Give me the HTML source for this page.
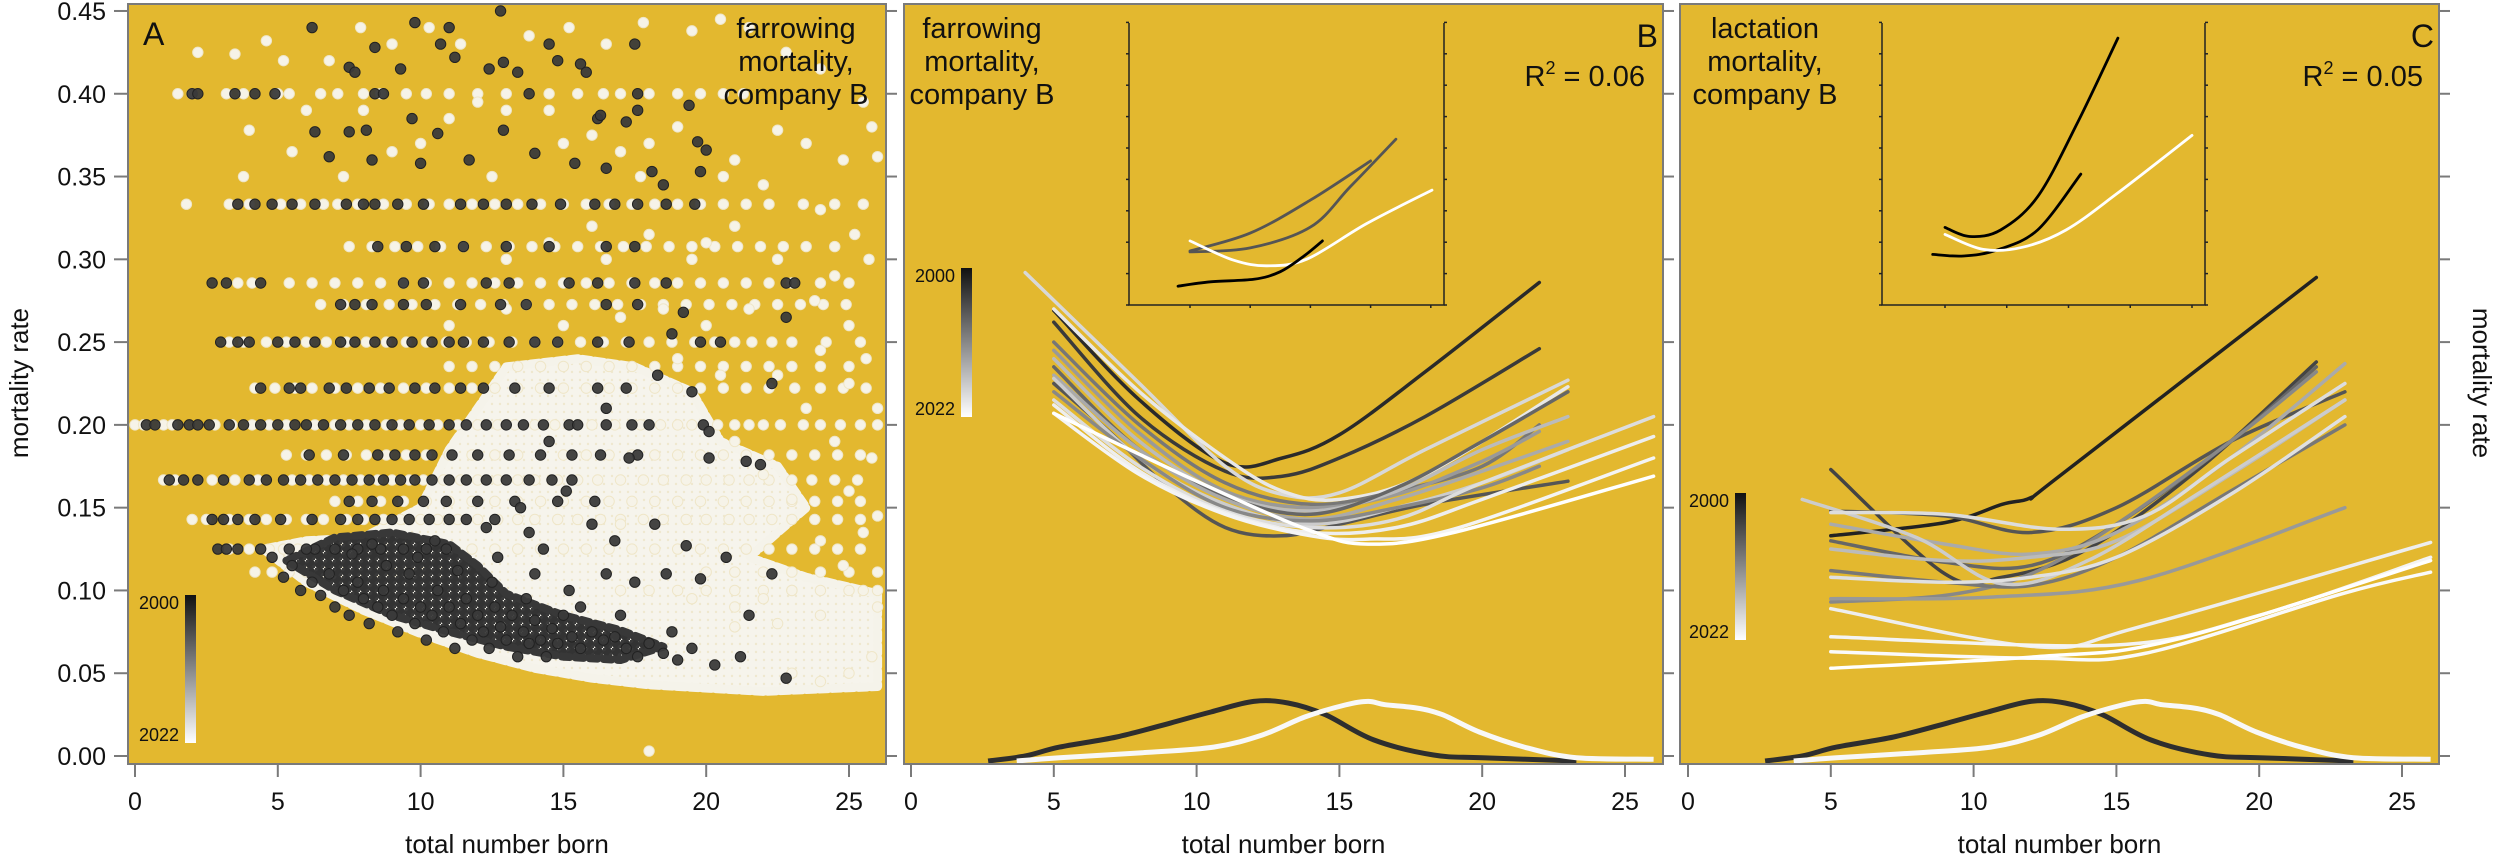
<!DOCTYPE html>
<html><head><meta charset="utf-8"><style>
html,body{margin:0;padding:0;background:#fff;}
svg{display:block;font-family:"Liberation Sans",sans-serif;}
</style></head><body>
<svg id="fig" width="2500" height="858" viewBox="0 0 2500 858" xmlns="http://www.w3.org/2000/svg">
<defs>
<linearGradient id="cbar" x1="0" y1="0" x2="0" y2="1"><stop offset="0" stop-color="#111"/><stop offset="1" stop-color="#fff"/></linearGradient>
<pattern id="darkDots" width="9" height="8" patternUnits="userSpaceOnUse">
<circle cx="4.5" cy="4" r="4.8" fill="#333"/><circle cx="0" cy="0" r="3.5" fill="#3a3a3a"/><circle cx="9" cy="8" r="3.5" fill="#3a3a3a"/>
</pattern>
<pattern id="whiteDots" width="8" height="8" patternUnits="userSpaceOnUse">
<rect width="8" height="8" fill="#f6f4ec"/><circle cx="4" cy="4" r="1.2" fill="#efe8cf"/>
</pattern>
<clipPath id="clipA"><rect x="129" y="5" width="757" height="758"/></clipPath>
<clipPath id="clipB"><rect x="905" y="5" width="758" height="758"/></clipPath>
<clipPath id="clipC"><rect x="1681" y="5" width="758" height="758"/></clipPath>
</defs>
<g id="root"></g>
</svg>
<script>
// ---------- data ----------
const xTicks = [0,5,10,15,20,25];
const yTicks = [0,0.05,0.10,0.15,0.20,0.25,0.30,0.35,0.40,0.45];
const yTickLabels = ["0.00","0.05","0.10","0.15","0.20","0.25","0.30","0.35","0.40","0.45"];

// Panel A scatter (total born, mortality)
const whiteDenseRegion = [[4.5,0.125],[6,0.105],[8,0.088],[10,0.074],[12,0.062],[14,0.053],[16,0.047],[18,0.043],[22,0.039],[26,0.042],[26,0.098],[23.5,0.108],[21.5,0.12],[22.5,0.135],[23.5,0.15],[22.5,0.175],[20.5,0.19],[19.5,0.22],[17.5,0.235],[15.5,0.24],[13,0.235],[12,0.21],[11,0.185],[10,0.15],[8,0.132],[6,0.13]];
const darkDenseRegion = [[5.3,0.118],[7,0.1],[9,0.085],[11,0.075],[13,0.066],[15,0.06],[17,0.058],[18.5,0.066],[17,0.076],[15,0.085],[13,0.098],[12,0.115],[11,0.128],[9,0.135],[7,0.132]];
const whiteRows = [
 [0.2,[0,0.3,1,1.3,2.8,3.4,4.1,4.7,5.3,6.3,7,7.5,8.1,8.8,9.3,10,10.6,11.3,12,12.7,13.3,14,14.7,15.5,16,16.8,17.7,18.4,19,19.5,20.4,21,21.5,22,22.6,23.4,24,24.7,25.4,26]],
 [0.1667,[1,1.4,2.7,3.5,4.3,5.5,6.1,6.7,7.3,7.9,8.5,9,9.6,10.1,10.8,11.4,12,12.7,13.4,14,14.8,15.5,16.2,17,17.8,18.5,19.3,20,20.8,21.5,22.2,23,23.7,24.5,25.3]],
 [0.1429,[2,2.5,3.3,4,4.6,5.3,6,6.6,7.4,8,8.7,9.3,10,10.6,11.3,12,12.7,13.4,14,14.8,15.5,16.3,17,17.8,18.5,19.3,20,20.8,21.5,22.3,23,23.8,24.6,25.4]],
 [0.125,[3.3,4,4.7,5.2,5.7,6.4,7.2,8,8.8,9.5,10.2,11,11.8,12.6,13.4,14.2,15,15.8,16.6,17.4,18.2,19,19.8,20.6,21.4,22.2,23,23.8,24.6,25.4]],
 [0.25,[3.3,3.8,4.6,5.3,6,6.7,7.4,8.1,8.8,9.5,10.2,10.9,11.6,12.4,13.2,14,14.8,15.6,16.4,17.2,18,18.8,19.6,20.3,21,21.6,22.3,23,24.2,25.4]],
 [0.3333,[1.8,3.3,4,5.1,5.8,6.6,7.1,7.8,8.7,9.5,10.3,11,11.8,12.6,13.4,14.2,15,15.8,16.6,17.4,18.2,19,19.8,20.6,21.4,22.2,23.4,24.5,25.5]],
 [0.2222,[4.2,4.9,5.6,6.2,7,7.8,8.6,9.4,10.2,11,11.8,12.6,13.4,14.2,15,15.8,16.6,17.4,18.2,19,19.8,20.6,21.4,22.2,23.1,24,24.8,25.6]],
 [0.2857,[3.6,4.1,5.4,6.2,7,7.8,8.6,9.4,10.2,11,11.8,12.6,13.4,14.2,15,15.8,16.6,17.4,18.2,19,19.8,20.6,21.4,22.2,23,24,25]],
 [0.1818,[5.3,6,6.7,7.4,8.1,8.8,9.5,10.2,11,11.8,12.6,13.4,14.2,15,15.8,16.6,17.4,18.2,19,19.8,20.6,21.4,22.2,23,23.8,24.6,25.4]],
 [0.1538,[7,7.8,8.6,9.4,10.2,11,11.8,12.6,13.4,14.2,15,15.8,16.6,17.4,18.2,19,19.8,20.6,21.4,22.2,23,23.8,24.6,25.4]],
 [0.3077,[7.5,8.3,9.1,9.9,10.7,11.5,12.3,13.1,13.9,14.7,15.5,16.3,17.1,17.9,18.7,19.5,20.3,21.1,21.9,22.7,23.5,24.5]],
 [0.2727,[6.5,7.3,8.1,8.9,9.7,10.5,11.3,12.1,12.9,13.7,14.5,15.3,16.1,16.9,17.7,18.5,19.3,20.1,20.9,21.7,22.5,23.3,24.1,24.9]],
 [0.4,[1.5,2,3.2,3.8,5,5.4,6.5,7.1,8,8.6,9.5,10.2,11,12,13,14.5,15.5,16.4,17,18,19,19.8,20.6,21.3]],
 [0.1111,[4.2,4.8,5.4,6,6.6,7.2,7.8,8.4,9,9.6,10.2,10.8,20,21,22,23,24,25,26]],
 [0.2353,[11,11.8,12.6,13.4,14.2,15,15.8,16.6,17.4,18.2,19,19.8,20.6,21.4,22.2,23,24,25]],
 [0.1,[17,18,19,20,21,22,23,24,25,26]]
];
const whiteScatter = [[2.2,0.425],[3.5,0.424],[4.6,0.432],[5.2,0.42],[6.8,0.42],[7.9,0.44],[9,0.43],[10.3,0.44],[11.4,0.43],[13.8,0.435],[15.2,0.44],[16.5,0.43],[17.8,0.443],[19.5,0.438],[20.5,0.445],[21.5,0.44],[22.8,0.425],[24,0.415],[25.5,0.395],[25.8,0.38],[26,0.362],[24.8,0.36],[23.5,0.37],[22.5,0.378],[21,0.36],[20.6,0.35],[19,0.38],[18,0.37],[17,0.365],[16,0.375],[15,0.37],[14.5,0.39],[13,0.39],[12,0.395],[11,0.385],[10,0.37],[9,0.365],[8,0.39],[6,0.39],[4,0.378],[5.5,0.365],[3.8,0.35],[7.3,0.35],[12.5,0.35],[17.7,0.35],[22,0.345],[24,0.33],[25.2,0.315],[25.7,0.3],[24.5,0.29],[23.8,0.275],[25,0.26],[25.6,0.24],[24,0.245],[25,0.225],[26,0.21],[24.5,0.19],[25.8,0.18],[25,0.16],[26,0.145],[25.5,0.135],[23,0.1],[22,0.095],[21,0.09],[19.5,0.095],[17,0.14],[13,0.3],[16,0.32],[20,0.31],[22.5,0.3],[18,0.003],[13,0.27],[11,0.26],[19,0.24],[20.5,0.23],[22.5,0.23],[23.5,0.21],[21,0.19],[22,0.17],[23,0.155],[24,0.13],[24.8,0.115],[25.5,0.1],[26,0.09],[24,0.085],[22.5,0.08],[21,0.078],[25,0.05],[24,0.045],[23,0.05],[25.8,0.06],[14.5,0.31],[16.5,0.3],[18,0.315],[19.5,0.3],[21,0.32],[15,0.26],[17,0.265],[18.5,0.27],[20,0.26],[21.5,0.27]];
const darkRows = [
 [0.2,[0.4,0.7,1.5,1.9,2.2,2.6,3.3,3.8,4.4,5,5.6,6,6.6,7.2,7.8,8.4,9,9.6,10.3,11,11.6,12.3,13,13.6,14.3,15.2,16.5,17.4,19.9]],
 [0.1667,[1.2,1.7,2.2,3.1,4,4.6,5.2,5.8,6.4,7,7.6,8.2,8.7,9.3,9.8,10.4,11,11.6,12.3,13,13.8,14.6,15.3]],
 [0.1429,[2.7,3.1,3.6,4.2,5.1,6.2,7.2,7.8,8.4,9,9.6,10.3,11,11.6,12.6]],
 [0.125,[2.9,3.2,3.6,4.4,5.4,6.3,7,7.8,8.6,9.4,10.2,10.9]],
 [0.25,[3,3.6,4,5,5.6,6.3,7.2,7.7,8.4,9,9.7,10.4,11,11.5,12.2,13.1,14,14.8,16.2,17.3,19.8,20.5]],
 [0.3333,[3.6,4.2,4.8,5.5,6.3,7.4,8,8.4,9.2,10.1,11.4,12.2,13,13.9,14.9,16.1,16.8,17.6,18.6,19.6]],
 [0.2222,[4.4,5.4,5.8,6.8,7.4,8.2,8.9,9.8,10.5,11.4,12.2,13.3,14.5,16.2,17.2]],
 [0.4,[2,2.2,3.5,4.2,4.9,8.4,8.7,13.8,17.6]],
 [0.2857,[2.7,3.2,4.4,9.4,10.1,12.3,13.1,15.2,16.2,17.5,18.6,22.8,23.1]],
 [0.1818,[6.1,7.3,8.5,9.1,9.8,10.4,11.1,12,13.1,14.2,15.3,16.3,17.6]],
 [0.1538,[7.5,8.3,9.2,10.1,10.9,12,13.3,14.8,16.1]],
 [0.2727,[7.2,7.7,8.3,9.4,10.2,11.4,12.8,13.7,16.5,17.6]],
 [0.3077,[8.5,9.5,10.5,11.5,13,14.5,16.5,17.5]]
];
const darkScatter = [[5.5,0.115],[5.8,0.1],[6.2,0.105],[6.5,0.097],[6.8,0.11],[7,0.09],[7.3,0.1],[7.5,0.085],[7.8,0.105],[8,0.095],[8.2,0.08],[8.5,0.09],[8.7,0.1],[9,0.085],[9.2,0.075],[9.4,0.095],[9.6,0.11],[9.8,0.08],[10,0.09],[10.2,0.07],[10.4,0.085],[10.6,0.1],[10.8,0.075],[11,0.09],[11.2,0.065],[11.4,0.08],[11.6,0.095],[11.8,0.07],[12,0.085],[12.2,0.075],[12.4,0.065],[12.6,0.09],[12.8,0.078],[13,0.07],[13.2,0.085],[13.4,0.06],[13.6,0.075],[13.8,0.068],[14,0.082],[14.2,0.07],[14.4,0.06],[14.6,0.077],[14.8,0.068],[15,0.085],[15.3,0.072],[15.6,0.065],[16,0.075],[16.4,0.07],[16.8,0.072],[17.2,0.065],[17.6,0.06],[18,0.068],[18.5,0.062],[19,0.058],[19.5,0.065],[20.3,0.055],[21.2,0.06],[22.8,0.047],[8.8,0.115],[9.9,0.12],[10.5,0.13],[11.3,0.112],[12.5,0.105],[13.7,0.095],[15.2,0.1],[16.5,0.11],[17.5,0.105],[18.6,0.11],[19.8,0.107],[20.7,0.12],[21.5,0.085],[22.3,0.11],[14.3,0.125],[16.8,0.13],[18.2,0.14],[19.3,0.127],[20.1,0.196],[20.1,0.18],[19.5,0.22],[18.3,0.23],[21.4,0.178],[21.9,0.176],[22.3,0.225],[22.8,0.265],[18.8,0.255],[19.2,0.268],[15.1,0.16],[16,0.14],[17.3,0.18],[18,0.2],[13.5,0.15],[14.5,0.19],[15.5,0.2],[16.5,0.21],
 [6.2,0.44],[7.5,0.416],[7.7,0.413],[8.4,0.428],[9.8,0.443],[10.7,0.43],[11.2,0.422],[12.4,0.415],[12.9,0.419],[13.4,0.413],[14.5,0.43],[15.6,0.418],[15.8,0.413],[17.5,0.43],[9.3,0.415],[11,0.44],[12.8,0.45],[7.5,0.377],[6.3,0.377],[8.1,0.378],[9.7,0.385],[10.6,0.376],[12.9,0.378],[16.2,0.385],[17.2,0.383],[19.7,0.371],[20,0.366],[6.8,0.362],[8.3,0.36],[10,0.358],[11.7,0.36],[15.4,0.358],[16.5,0.355],[18.1,0.353],[19.8,0.353],[14,0.364],[18.5,0.345],[19.4,0.393],[14.8,0.42],[16.3,0.387],[17.6,0.39],
 [4.8,0.12],[5.2,0.108],[6,0.125],[7.6,0.122],[8.3,0.128],[12.7,0.12],[14,0.11],[15.6,0.09],[17,0.085],[18.8,0.075],[12.3,0.138],[13.8,0.135]];

// Panel B fitted curves
const bLineGray = ["#2a2a2a","#3a3a3a","#555","#d8d8d8","#e8e8e8","#777","#999","#bbb","#666","#aaa","#ccc","#888","#ddd","#eee","#f4f4f4","#fff"];
const bLines = [
 [[5,.269],[8,.215],[11,.177],[13,.180],[15,.194],[18,.232],[22,.286]],
 [[5,.262],[8,.205],[11,.172],[13,.169],[15,.180],[18,.205],[22,.246]],
 [[5,.225],[7,.195],[9,.162],[11,.138],[13,.133],[15,.140],[18,.152],[23,.166]],
 [[4,.292],[8,.225],[11,.175],[13,.158],[15,.159],[18,.185],[23,.227]],
 [[5,.27],[8,.22],[11,.18],[13,.16],[15,.155],[18,.17],[23,.223]],
 [[5,.25],[8,.2],[11,.165],[14,.152],[17,.16],[20,.175],[22,.20]],
 [[5,.245],[8,.195],[11,.16],[14,.15],[17,.158],[20,.178],[22,.196]],
 [[5,.24],[8,.19],[11,.158],[14,.148],[17,.16],[20,.185],[23,.205]],
 [[5,.235],[8,.185],[11,.157],[14,.146],[17,.162],[20,.19],[23,.22]],
 [[5,.23],[8,.185],[11,.155],[14,.143],[17,.155],[20,.172],[23,.19]],
 [[5,.228],[8,.18],[11,.152],[14,.14],[17,.15],[20,.165],[23,.185]],
 [[5,.22],[8,.18],[11,.15],[14,.142],[17,.15],[20,.162],[22,.175]],
 [[5,.215],[8,.175],[11,.148],[14,.138],[17,.143],[20,.165],[26,.205]],
 [[5,.212],[8,.172],[11,.147],[14,.135],[17,.138],[20,.155],[26,.193]],
 [[5,.207],[8,.17],[11,.146],[14,.133],[16,.131],[19,.137],[26,.18]],
 [[5,.207],[10,.166],[14,.136],[16,.128],[19,.135],[26,.169]]
];
// Panel C fitted curves
const cLineGray = ["#222","#444","#555","#666","#888","#777","#999","#aaa","#bbb","#ccc","#ddd","#e0e0e0","#eee","#f4f4f4","#fafafa","#fff"];
const cLines = [
 [[5,.133],[9,.141],[11,.152],[12,.156],[13,.169],[22,.289]],
 [[5,.173],[9,.11],[11,.108],[14,.125],[18,.175],[22,.238]],
 [[5,.148],[9,.145],[12,.135],[15,.15],[19,.19],[23,.22]],
 [[5,.13],[9,.117],[12,.115],[15,.14],[19,.19],[22,.235]],
 [[5,.093],[9,.097],[12,.11],[15,.14],[19,.19],[22,.232]],
 [[5,.112],[9,.105],[12,.103],[15,.12],[19,.16],[23,.2]],
 [[5,.095],[10.6,.096],[15.8,.106],[23,.150]],
 [[5,.14],[9,.128],[12,.122],[15,.135],[19,.18],[23,.237]],
 [[5,.125],[9,.118],[12,.12],[15,.13],[19,.17],[23,.215]],
 [[4,.155],[8,.132],[11,.104],[14,.118],[18,.16],[23,.215]],
 [[5,.147],[9,.146],[13,.137],[16,.145],[19,.18],[23,.225]],
 [[5,.108],[9,.105],[12,.108],[15,.12],[19,.158],[23,.205]],
 [[5,.089],[12.2,.066],[15.8,.078],[26,.129]],
 [[5,.072],[14.9,.067],[20,.085],[26,.12]],
 [[5,.063],[12.2,.059],[16,.062],[22.9,.098],[26,.111]],
 [[5,.053],[12.2,.06],[17,.07],[26,.118]]
];
// litter-size distributions (bottom of B and C)
const densityDarkX = [2.7,4,5.2,7.2,9.1,10.5,12,13.2,14.5,16.2,18.3,20,23.3];
const densityDarkY = [-0.003,0,0.0054,0.0115,0.02,0.0266,0.033,0.032,0.025,0.0097,0.0006,-0.001,-0.003];
const densityWhiteX = [3.7,5.2,8.1,10.6,12.3,13.8,15.2,16,16.6,17.7,18.6,19.9,21.6,23.3,26];
const densityWhiteY = [-0.003,-0.001,0.002,0.0054,0.0127,0.0236,0.0308,0.033,0.031,0.029,0.025,0.0145,0.0048,-0.001,-0.002];
// insets (inset units)
const insetBGray = ["#555","#555","#fff","#000"];
const insetBLines = [
 [[5,1.72],[10,2.29],[15,3.34],[20,4.59]],
 [[5,1.69],[10,1.82],[15,2.48],[18.3,3.76],[22.1,5.28]],
 [[5,2.04],[8.6,1.43],[11.4,1.25],[14.7,1.46],[19.7,2.6],[25.1,3.66]],
 [[4,0.6],[6.7,0.74],[10.3,0.82],[12.5,1.06],[14.4,1.54],[16,2.04]]
];
const insetCGray = ["#000","#000","#fff"];
const insetCLines = [
 [[5,2.47],[7,2.18],[9.5,2.39],[12.5,3.45],[15.7,5.78],[19,8.5]],
 [[4,1.61],[6.5,1.56],[9.2,1.75],[12.5,2.39],[16,4.17]],
 [[5,2.25],[8.1,1.77],[11.3,1.84],[14.8,2.39],[18.9,3.54],[25,5.4]]
];
const insetXTicks = [5,10,15,20,25];
const insetYTicks = [0,1,2,3,4,5,6,7,8,9];

// ---------- helpers ----------
const NS = "http://www.w3.org/2000/svg";
const root = document.getElementById('root');
function mk(tag, attrs, parent){ const e=document.createElementNS(NS,tag); for(const k in attrs) e.setAttribute(k,attrs[k]); (parent||root).appendChild(e); return e; }
const Y0 = 756, YS = 1655.6, XS = 28.56;
function yv(v){ return Y0 - v*YS; }
function makeX(x0){ return v => x0 + v*XS; }
function smoothPath(pts){
  if(pts.length<2) return "";
  let d = "M"+pts[0][0].toFixed(1)+","+pts[0][1].toFixed(1);
  for(let i=0;i<pts.length-1;i++){
    const p0=pts[Math.max(0,i-1)], p1=pts[i], p2=pts[i+1], p3=pts[Math.min(pts.length-1,i+2)];
    const c1x=p1[0]+(p2[0]-p0[0])/6, c1y=p1[1]+(p2[1]-p0[1])/6;
    const c2x=p2[0]-(p3[0]-p1[0])/6, c2y=p2[1]-(p3[1]-p1[1])/6;
    d += " C"+c1x.toFixed(1)+","+c1y.toFixed(1)+" "+c2x.toFixed(1)+","+c2y.toFixed(1)+" "+p2[0].toFixed(1)+","+p2[1].toFixed(1);
  }
  return d;
}
function text(str, x, y, size, anchor, parent, name, extra){
  const t = mk('text',{x:x,y:y,'font-size':size,'text-anchor':anchor||'start',fill:'#111'},parent);
  if(extra) for(const k in extra) t.setAttribute(k,extra[k]);
  t.textContent = str;
  
  
  return t;
}

const panels = [
  {id:'A', left:128, right:886, x0:135, clip:'clipA'},
  {id:'B', left:904, right:1663, x0:911, clip:'clipB'},
  {id:'C', left:1680, right:2439, x0:1688, clip:'clipC'}
];

panels.forEach(p=>{
  const g = mk('g',{});
  
  
  const bg = mk('rect',{x:p.left,y:4,width:p.right-p.left,height:760,fill:'#e3b82f'},g);
  
  
  p.g = g;
  p.X = makeX(p.x0);
  p.data = mk('g',{'clip-path':'url(#'+p.clip+')'},g);
  
  
});

// ---------- Panel A ----------
(function(){
  const p = panels[0], X = p.X;
  const wr = mk('polygon',{points: whiteDenseRegion.map(q=>X(q[0]).toFixed(1)+","+yv(q[1]).toFixed(1)).join(" "), fill:'url(#whiteDots)', stroke:'#f5f3ea','stroke-width':9,'stroke-linejoin':'round','stroke-dasharray':'9 4','stroke-linecap':'round'}, p.data);
  
  
  const wg = mk('g',{fill:'#f6f3e8',stroke:'#efe6c8','stroke-width':1}, p.data);
  
  
  whiteRows.forEach(r=>r[1].forEach(x=>{ const c=mk('circle',{cx:X(x),cy:yv(r[0]),r:5.2},wg);   }));
  whiteScatter.forEach(q=>{ const c=mk('circle',{cx:X(q[0]),cy:yv(q[1]),r:5.2},wg);   });
  const dr = mk('polygon',{points: darkDenseRegion.map(q=>X(q[0]).toFixed(1)+","+yv(q[1]).toFixed(1)).join(" "), fill:'url(#darkDots)', stroke:'#383838','stroke-width':8,'stroke-linejoin':'round','stroke-dasharray':'8 6','stroke-linecap':'round'}, p.data);
  
  
  const dg = mk('g',{fill:'#3a3a3a',stroke:'#222','stroke-width':1,'fill-opacity':0.95}, p.data);
  
  
  darkRows.forEach(r=>r[1].forEach(x=>{ const c=mk('circle',{cx:X(x),cy:yv(r[0]),r:5.2},dg);   }));
  darkScatter.forEach(q=>{ const c=mk('circle',{cx:X(q[0]),cy:yv(q[1]),r:5.2},dg);   });
})();

// ---------- curves B & C ----------
function drawLines(p, lines, grays, nm){
  const X = p.X;
  lines.forEach((ln,i)=>{
    const path = mk('path',{d:smoothPath(ln.map(q=>[X(q[0]),yv(q[1])])),fill:'none',stroke:grays[i],'stroke-width':3.5,'stroke-linecap':'round'},p.data);
    
    
  });
  const dd = mk('path',{d:smoothPath(densityDarkX.map((x,i)=>[X(x),yv(densityDarkY[i])])),fill:'none',stroke:'#2e2e2e','stroke-width':5},p.data);
  
  
  const dw = mk('path',{d:smoothPath(densityWhiteX.map((x,i)=>[X(x),yv(densityWhiteY[i])])),fill:'none',stroke:'#f8f8f8','stroke-width':5},p.data);
  
  
}
drawLines(panels[1], bLines, bLineGray, 'b');
drawLines(panels[2], cLines, cLineGray, 'c');

// ---------- insets ----------
function drawInset(left,right,x5,xs,lines,grays,nm){
  const g = mk('g',{});
  
  
  const top=23, bot=305, ys=31.4;
  const ax = mk('path',{d:`M${left},${top} V${bot} H${right} V${top}`,fill:'none',stroke:'#222','stroke-width':1.5},g);
  
  
  insetYTicks.forEach(t=>{
    const y = bot - t*ys;
    const a=mk('line',{x1:left-3,x2:left,y1:y,y2:y,stroke:'#222','stroke-width':1.5},g);
     
    const b=mk('line',{x1:right,x2:right+3,y1:y,y2:y,stroke:'#222','stroke-width':1.5},g);
     
  });
  insetXTicks.forEach(t=>{
    const x = x5 + (t-5)*xs;
    const a=mk('line',{x1:x,x2:x,y1:bot,y2:bot+3,stroke:'#222','stroke-width':1.5},g);
     
  });
  lines.forEach((ln,i)=>{
    const path = mk('path',{d:smoothPath(ln.map(q=>[x5+(q[0]-5)*xs, bot-q[1]*ys])),fill:'none',stroke:grays[i],'stroke-width':2.8,'stroke-linecap':'round'},g);
    
    
  });
}
drawInset(1129,1444,1190,12.04,insetBLines,insetBGray,'inset-b');
drawInset(1882,2205,1945,12.35,insetCLines,insetCGray,'inset-c');

// ---------- frames, axes ----------
panels.forEach((p,pi)=>{
  const fr = mk('rect',{x:p.left,y:4,width:p.right-p.left,height:760,fill:'none',stroke:'#7a7a7a','stroke-width':2},p.g);
  
  
  xTicks.forEach(t=>{
    const x=p.X(t);
    const l=mk('line',{x1:x,x2:x,y1:764,y2:777,stroke:'#7a7a7a','stroke-width':2},p.g);
     
    text(String(t),x,810,25,'middle',p.g,'x-tick-label');
  });
  yTicks.forEach((t,i)=>{
    const y=yv(t);
    const r=mk('line',{x1:p.right,x2:p.right+11,y1:y,y2:y,stroke:'#7a7a7a','stroke-width':2},p.g);
     
    if(pi===0){
      const l=mk('line',{x1:p.left-14,x2:p.left,y1:y,y2:y,stroke:'#7a7a7a','stroke-width':2},p.g);
       
      text(yTickLabels[i],106,y+9,25,'end',p.g,'y-tick-label');
    }
  });
  text('total number born',(p.left+p.right)/2,853,26,'middle',p.g,'x-axis-title');
});
text('mortality rate',0,0,26,'middle',root,'y-axis-title-left',{transform:'translate(28,383) rotate(-90)'});
text('mortality rate',0,0,26,'middle',root,'y-axis-title-right',{transform:'translate(2473,383) rotate(90)'});

// panel annotations
text('A',143,45,32,'start',root,'panel-label-a');
text('B',1658,47,32,'end',root,'panel-label-b');
text('C',2434,47,32,'end',root,'panel-label-c');
[['farrowing','mortality,','company B',796,'panel-a-title'],['farrowing','mortality,','company B',982,'panel-b-title'],['lactation','mortality,','company B',1765,'panel-c-title']].forEach(a=>{
  const t = mk('text',{x:a[3],y:38,'font-size':29,'text-anchor':'middle',fill:'#111'});
  
  
  [a[0],a[1],a[2]].forEach((s,i)=>{ const ts=mk('tspan',{x:a[3],dy:i?33:0},t); ts.textContent=s; });
});
function r2(str,x,name){
  const t = mk('text',{x:x,y:86,'font-size':29,'text-anchor':'end',fill:'#111'});
  
  
  const a=mk('tspan',{},t); a.textContent='R';
  const b=mk('tspan',{'font-size':18,dy:-12},t); b.textContent='2';
  const c=mk('tspan',{dy:12},t); c.textContent=' = '+str;
}
r2('0.06',1645,'r-squared-b');
r2('0.05',2423,'r-squared-c');

// colour bars
[[185,595,743,179],[961,268,417,955],[1735,493,640,1729]].forEach((c,i)=>{
  const r = mk('rect',{x:c[0],y:c[1],width:11,height:c[2]-c[1],fill:'url(#cbar)'});
  
  
  text('2000',c[3],c[1]+14,18,'end',root,'colorbar-label-2000');
  text('2022',c[3],c[2]-2,18,'end',root,'colorbar-label-2022');
});
</script>
</body></html>
